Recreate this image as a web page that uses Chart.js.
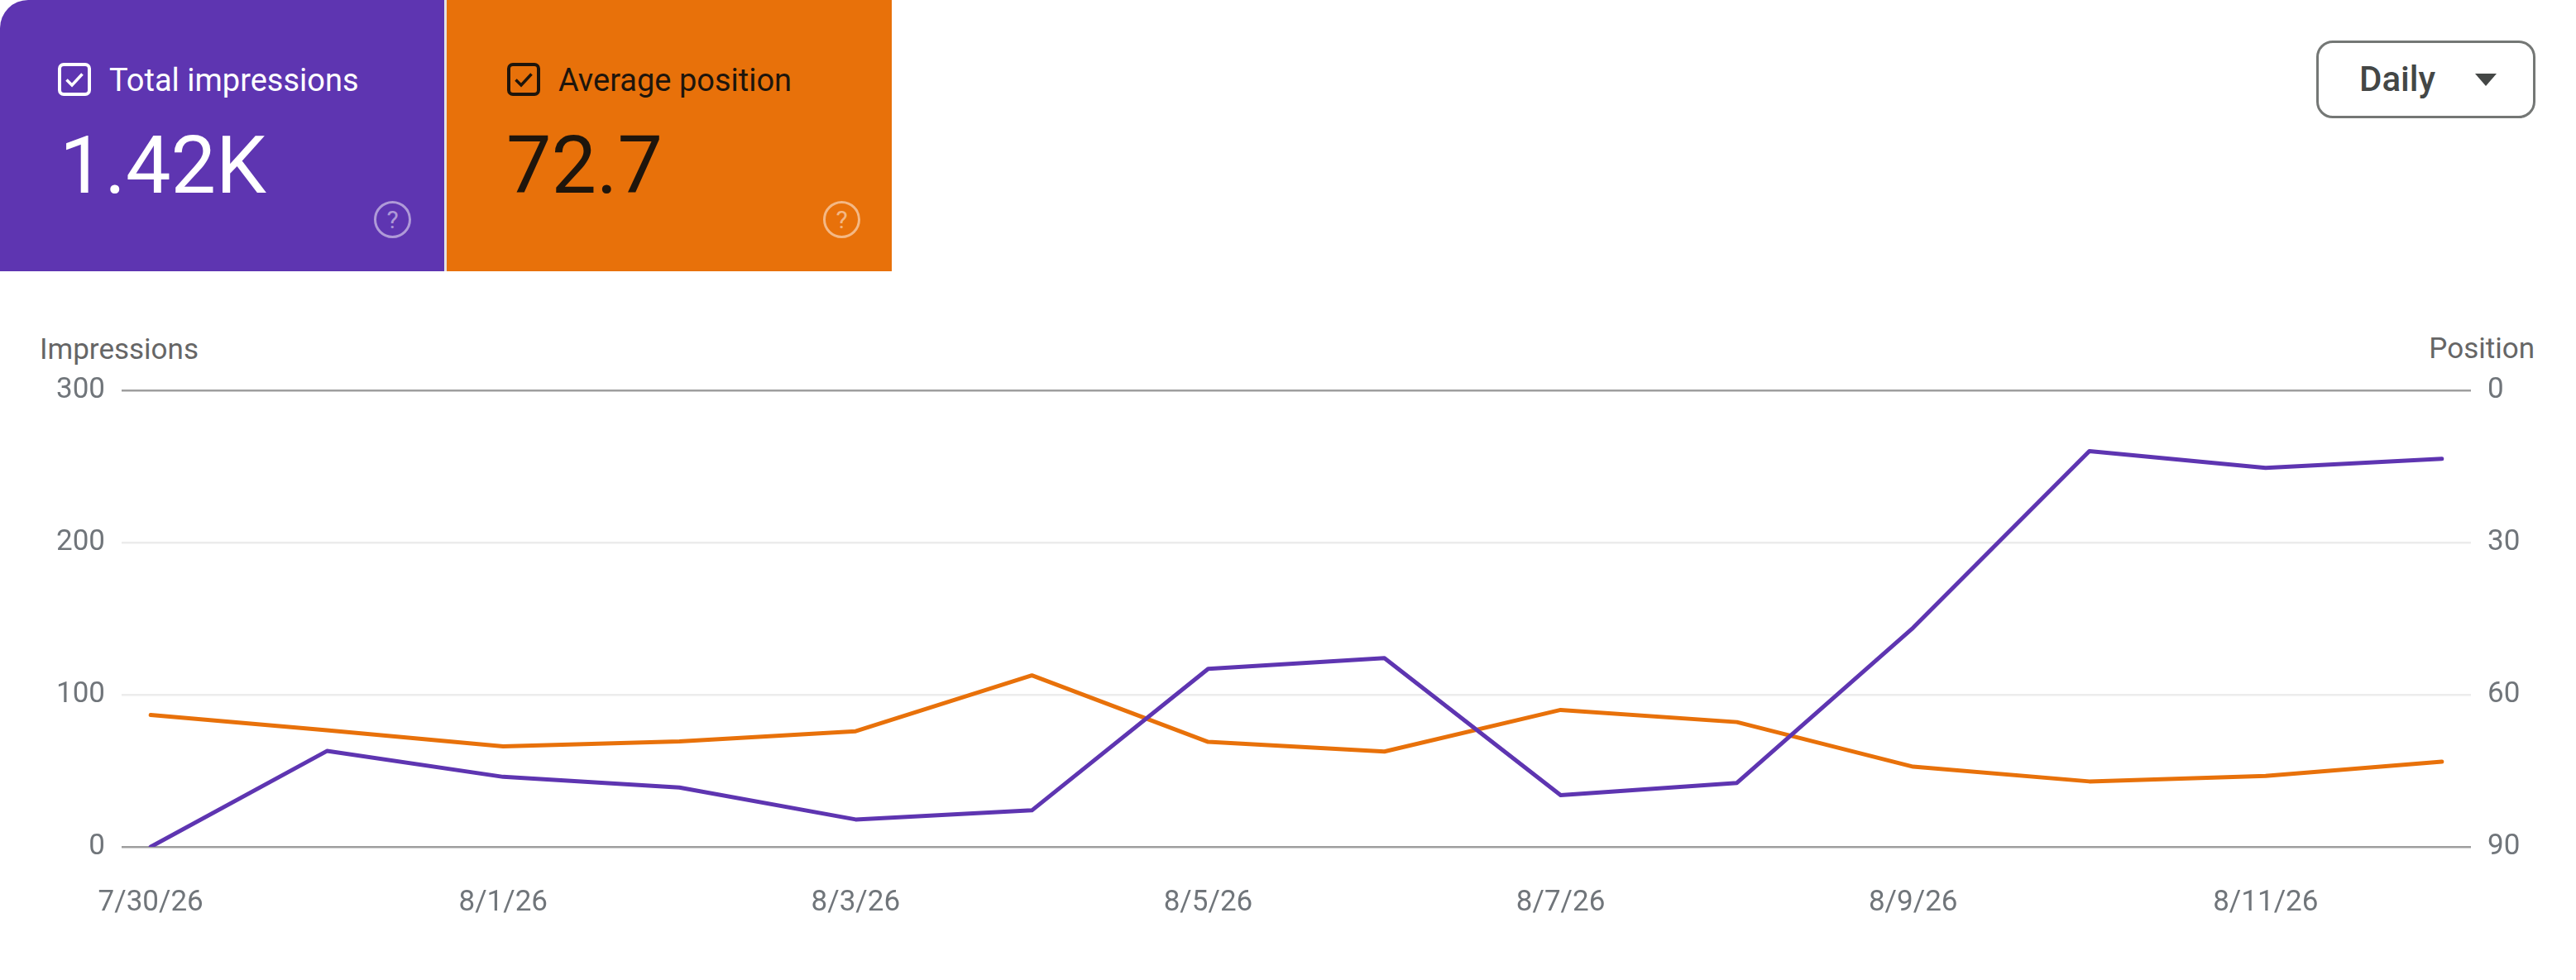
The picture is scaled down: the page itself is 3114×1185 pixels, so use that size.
<!DOCTYPE html>
<html>
<head>
<meta charset="utf-8">
<script src="https://cdn.jsdelivr.net/npm/chart.js@4.4.1/dist/chart.umd.min.js"></script>
<style>
  html, body { margin: 0; padding: 0; background: #fff; }
  body { width: 3114px; height: 1185px; position: relative; overflow: hidden; font-family: Roboto, 'Noto Sans', sans-serif; }
  .abs { position: absolute; }
  .card { top: 0; height: 328px; }
  .card.imp { left: 0; width: 537px; background: #5e35b1; border-top-left-radius: 34px; color: #fff; }
  .card.pos { left: 540px; width: 538px; background: #e8710a; color: #1e150c; }
  .gap { left: 537px; top: 0; width: 3px; height: 328px; background: #e3e3e3; }
  .cb { width: 40px; height: 40px; }
  .lbl { font-size: 38px; line-height: 38px; white-space: nowrap; }
  .val { font-size: 97px; line-height: 97px; white-space: nowrap; }
  .help { width: 39px; height: 39px; border-radius: 50%; border: 3px solid; font-size: 30px; line-height: 39px; text-align: center; }
  .imp .help, .pos .help { color: rgba(255,255,255,0.5); border-color: rgba(255,255,255,0.5); }
  .dd { left: 2800px; top: 49px; width: 259px; height: 88px; border: 3px solid #747775; border-radius: 20px; }
  .dd span { position: absolute; left: 49px; top: 23px; font-size: 42px; line-height: 42px; font-weight: 500; color: #444746; }
  .tri { left: 2992px; top: 89px; width: 0; height: 0; border-left: 13.5px solid transparent; border-right: 13.5px solid transparent; border-top: 15px solid #444746; }
  .axt { font-size: 35px; line-height: 35px; color: #666; white-space: nowrap; }
  #wrap { position: absolute; left: 0; top: 400px; width: 3114px; height: 785px; }
</style>
</head>
<body>

<div class="abs card imp">
  <svg class="abs cb" style="left:70px;top:76px" viewBox="0 0 40 40">
    <rect x="2" y="2" width="36" height="36" rx="5" fill="none" stroke="#fff" stroke-width="4"/>
    <path d="M10.5 20.5 L17 27 L29.5 13.5" fill="none" stroke="#fff" stroke-width="3.5"/>
  </svg>
  <div class="abs lbl" style="left:132px;top:78px">Total impressions</div>
  <div class="abs val" style="left:72px;top:152px">1.42K</div>
  <div class="abs help" style="left:452px;top:243px">?</div>
</div>
<div class="abs gap"></div>
<div class="abs card pos">
  <svg class="abs cb" style="left:73px;top:76px" viewBox="0 0 40 40">
    <rect x="2" y="2" width="36" height="36" rx="5" fill="none" stroke="#1e150c" stroke-width="4"/>
    <path d="M10.5 20.5 L17 27 L29.5 13.5" fill="none" stroke="#1e150c" stroke-width="3.5"/>
  </svg>
  <div class="abs lbl" style="left:135px;top:78px">Average position</div>
  <div class="abs val" style="left:72px;top:152px">72.7</div>
  <div class="abs help" style="left:455px;top:243px">?</div>
</div>

<div class="abs dd"><span>Daily</span></div>
<div class="abs tri"></div>

<div class="abs axt" style="left:48px;top:405px">Impressions</div>
<div class="abs axt" style="right:50px;top:404px">Position</div>

<div id="wrap"><canvas id="perfChart"></canvas></div>

<script>
/* ── DATA ── */
const dates       = ['7/30/26', '7/31/26', '8/1/26', '8/2/26', '8/3/26', '8/4/26', '8/5/26',
                     '8/6/26', '8/7/26', '8/8/26', '8/9/26', '8/10/26', '8/11/26', '8/12/26'];
const impressions = [0, 63, 46, 39, 18, 24, 117, 124, 34, 42, 144, 260, 249, 255];
const positions   = [64.0, 67.0, 70.2, 69.2, 67.2, 56.2, 69.3, 71.2, 63.0, 65.4, 74.2, 77.1, 76.0, 73.2];
const impTicks    = [0, 100, 200, 300];
const posTicks    = [0, 30, 60, 90];

const PURPLE = '#5e35b1';
const ORANGE = '#e8710a';
const TICK   = '#70757a';
const tickFont = { family: 'Roboto', size: 35 };

/* ── CHART ── */
const toPts = arr => arr.map((v, i) => ({ x: i, y: v }));

new Chart(document.getElementById('perfChart').getContext('2d'), {
  type: 'line',
  data: {
    datasets: [
      { label: 'Impressions', data: toPts(impressions), yAxisID: 'yImp', borderColor: PURPLE,
        borderWidth: 5, pointRadius: 0, tension: 0, borderJoinStyle: 'round', borderCapStyle: 'round' },
      { label: 'Position', data: toPts(positions), yAxisID: 'yPos', borderColor: ORANGE,
        borderWidth: 5, pointRadius: 0, tension: 0, borderJoinStyle: 'round', borderCapStyle: 'round' },
    ],
  },
  options: {
    responsive: true,
    maintainAspectRatio: false,
    animation: false,
    layout: { padding: { top: 72, left: 0, right: 0, bottom: 0 } },
    plugins: { legend: { display: false }, tooltip: { enabled: false } },
    scales: {
      x: {
        type: 'linear',
        min: -0.165,
        max: 13.165,
        grid: { display: false },
        border: { display: false },
        afterBuildTicks: s => { s.ticks = dates.map((d, i) => ({ value: i })).filter(t => t.value % 2 === 0); },
        afterFit: s => { s.height = 161; },
        ticks: { color: TICK, font: tickFont, padding: 39, autoSkip: false, maxRotation: 0,
                 callback: v => dates[v] },
      },
      yImp: {
        position: 'left',
        min: 0,
        max: 300,
        border: { display: false },
        grid: {
          drawTicks: false,
          lineWidth: 2.5,
          color: ctx => (ctx.tick && (ctx.tick.value === 0 || ctx.tick.value === 300)) ? '#9e9e9e' : '#ececec',
        },
        afterBuildTicks: s => { s.ticks = impTicks.map(v => ({ value: v })); },
        afterFit: s => { s.width = 147; },
        ticks: { color: TICK, font: tickFont, padding: 20 },
      },
      yPos: {
        position: 'right',
        reverse: true,
        min: 0,
        max: 90,
        border: { display: false },
        grid: { display: false, drawTicks: false },
        afterBuildTicks: s => { s.ticks = posTicks.map(v => ({ value: v })); },
        afterFit: s => { s.width = 127; },
        ticks: { color: TICK, font: tickFont, padding: 20 },
      },
    },
  },
});
</script>
</body>
</html>
